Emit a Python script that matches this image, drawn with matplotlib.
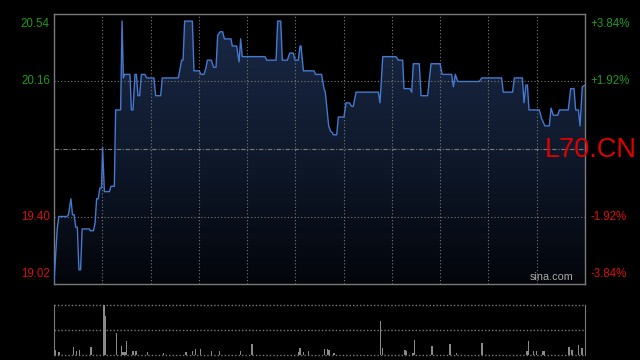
import numpy as np
import matplotlib
matplotlib.use("Agg")
import matplotlib.pyplot as plt
from matplotlib.patches import Polygon

# price vertices (minute index, price)
minutes = [0, 2, 3, 8, 9, 10.5, 11.5, 12.5, 13.5, 14.5, 15.5, 16.5, 17.5, 22, 22.5, 24.5,
           25.5, 26.5, 27.5, 28.5, 29.5, 30.2, 31.3, 34.4, 35.4, 37.5, 38.3, 40.6, 41.4,
           42.3, 43.1, 43.9, 47.2, 48.1, 49.1, 50.3, 51.2, 52.2, 53.2, 54.3, 56.5, 57.6,
           62.1, 63.2, 66.3, 67.3, 77.3, 78.7, 79.3, 80.2, 81.2, 86, 87, 90.3, 91.4, 93.2,
           94.5, 95.3, 97.8, 99.2, 100.7, 101.7, 103.2, 104.8, 105.9, 110, 110.8, 113.5,
           115, 116, 117, 131.1, 132.2, 138, 139, 140.9, 141.9, 145, 146.5, 147.1, 148.7,
           149.8, 151.8, 152.9, 153.5, 155, 161.6, 162.6, 166.3, 167.8, 168.6, 170.7, 171.9,
           173.2, 173.6, 175.7, 176.7, 180.2, 181.5, 183.5, 185, 186, 187.7, 201.6, 202.6,
           204.3, 212.5, 214, 216.7, 217.5, 221.2, 222.3, 223.3, 227, 228.1, 232.2, 234.3,
           239.9, 241.3, 247.1, 248.2, 249.4, 250.9, 264.3, 265.8, 278.2, 279.2, 285,
           286.1, 291.1, 292.1, 293.3, 294.2, 295.2, 301.6, 303.1, 305.1, 307.8, 308.9,
           310.3, 313, 314.1, 319.6, 321.1, 323.2, 324.2, 325.9, 326.9, 328.3, 330]
prices = [19.03, 19.33, 19.40, 19.40, 19.41, 19.50, 19.41, 19.41, 19.34, 19.34, 19.10, 19.10,
          19.33, 19.33, 19.32, 19.32, 19.36, 19.50, 19.50, 19.56, 19.56, 19.79, 19.54, 19.54,
          19.57, 19.57, 20.00, 20.00, 20.00, 20.50, 20.18, 20.20, 20.20, 20.00, 20.00, 20.20,
          20.20, 20.08, 20.08, 20.20, 20.20, 20.18, 20.18, 20.08, 20.08, 20.18, 20.18, 20.25,
          20.28, 20.28, 20.50, 20.50, 20.22, 20.22, 20.20, 20.20, 20.24, 20.28, 20.28, 20.24,
          20.24, 20.42, 20.44, 20.44, 20.40, 20.40, 20.36, 20.36, 20.27, 20.40, 20.30, 20.30,
          20.28, 20.28, 20.50, 20.50, 20.28, 20.28, 20.32, 20.32, 20.32, 20.28, 20.28, 20.36,
          20.36, 20.22, 20.22, 20.20, 20.20, 20.12, 20.10, 19.91, 19.88, 19.87, 19.86, 19.86,
          19.96, 19.96, 20.04, 20.04, 20.02, 20.02, 20.10, 20.10, 20.04, 20.30, 20.30, 20.28,
          20.28, 20.12, 20.12, 20.10, 20.26, 20.26, 20.08, 20.08, 20.26, 20.26, 20.20, 20.20,
          20.13, 20.20, 20.16, 20.16, 20.18, 20.18, 20.10, 20.10, 20.18, 20.18, 20.04, 20.14,
          20.14, 20.00, 20.00, 19.95, 19.91, 19.91, 20.01, 19.97, 19.97, 20.00, 20.00, 20.12,
          20.12, 20.00, 20.00, 19.91, 20.13, 20.14]

# visible volume bars (minute index, relative volume, 100 = panel top)
vol_minutes = [1, 3, 12, 14, 16, 23, 31, 32, 39, 42, 43, 44, 45, 49, 51, 58, 68, 82, 86, 88,
               91, 98, 103, 116, 123, 152, 153, 155, 158, 168, 170, 171, 174, 203, 204, 218,
               219, 223, 224, 235, 246, 250, 266, 294, 295, 298, 300, 304, 305, 320, 322,
               326, 328]
vol_values = [10, 6, 16, 8, 10, 16, 100, 77, 44, 18, 6, 6, 28, 8, 8, 6, 3, 6, 8, 12, 12, 8, 8,
              8, 22, 6, 14, 6, 8, 12, 12, 10, 3, 68, 14, 10, 8, 3, 30, 18, 22, 3, 24, 8, 28,
              8, 8, 8, 8, 16, 10, 20, 14]

price_ticks = [20.54, 20.16, 19.40, 19.02]
pct_ticks = ["+3.84%", "+1.92%", "-1.92%", "-3.84%"]
prev_close = 19.78

green = "#1f9a1f"
red = "#d81010"
grey = "#7a7a7a"

fig = plt.figure(figsize=(6.4, 3.6), dpi=100, facecolor="black")
ax = fig.add_axes([54 / 640, 1 - 284 / 360, 531 / 640, 270 / 360], facecolor="black")
axv = fig.add_axes([54 / 640, 1 - 355 / 360, 531 / 640, 50.3 / 360], facecolor="black")

ax.set_xlim(0, 330)
ax.set_ylim(19.02, 20.54)

# gradient fill under the line
grad = np.linspace(0, 1, 256).reshape(-1, 1)
cmap = matplotlib.colors.LinearSegmentedColormap.from_list(
    "fill", ["#03050a", "#0f1a2d", "#1b2946"])
img = ax.imshow(grad, extent=[0, 330, 19.02, 20.54], origin="lower", aspect="auto",
                cmap=cmap, zorder=1)
verts = list(zip(minutes, prices)) + [(330, 19.02), (0, 19.02)]
clip = Polygon(verts, closed=True, transform=ax.transData, facecolor="none", edgecolor="none")
ax.add_patch(clip)
img.set_clip_path(clip)

ax.plot(minutes, prices, color="#4479d0", lw=1.0, zorder=3)

# grid
for x in np.linspace(0, 330, 12)[1:-1]:
    ax.axvline(x, color=grey, lw=0.8, ls=(0, (1, 2)), zorder=2)
for p in [20.16, 19.40]:
    ax.axhline(p, color=grey, lw=0.8, ls=(0, (1, 2)), zorder=2)
ax.axhline(prev_close, color=grey, lw=0.8, ls=(0, (4, 1.5, 1, 1.5)), zorder=2)

for s in ax.spines.values():
    s.set_color(grey)
    s.set_linewidth(1)
ax.set_xticks([])
ax.set_yticks([])

# tick labels
vas = ["top", "center", "center", "bottom"]
for p, pct, va in zip(price_ticks, pct_ticks, vas):
    c = green if p > prev_close else red
    off = {"top": -3, "center": 0, "bottom": 3}[va]
    ax.annotate(f"{p:.2f}", (0, p), xycoords=("axes fraction", "data"),
                xytext=(-3, off), textcoords="offset points", ha="right", va=va,
                color=c, fontsize=8.3, family="Liberation Sans")
    ax.annotate(pct, (1, p), xycoords=("axes fraction", "data"),
                xytext=(4, off), textcoords="offset points", ha="left", va=va,
                color=c, fontsize=8.3, family="Liberation Sans")

ax.text(545 / 640, 1 - 150 / 360, "L70.CN", transform=fig.transFigure, color="#e00000",
        fontsize=19.5, family="Liberation Sans", ha="left", va="center", zorder=5)
ax.text(0.978, 0.008, "sina.com", transform=ax.transAxes, color="#aaaaaa", fontsize=7.8,
        family="Liberation Sans", ha="right", va="bottom", zorder=5)

# volume panel
axv.set_xlim(0, 330)
axv.set_ylim(0, 100)
axv.bar(vol_minutes, vol_values, width=0.9, color="#8a8a8a", zorder=3)
for v in [0, 50, 100]:
    axv.axhline(v, color=grey, lw=1, ls=(0, (1, 1.5)), zorder=2, clip_on=False)
axv.spines["top"].set_visible(False)
axv.spines["bottom"].set_visible(False)
axv.spines["left"].set_color(grey)
axv.spines["right"].set_color(grey)
axv.set_xticks([])
axv.set_yticks([])

fig.savefig("out.png", dpi=100, facecolor="black")
